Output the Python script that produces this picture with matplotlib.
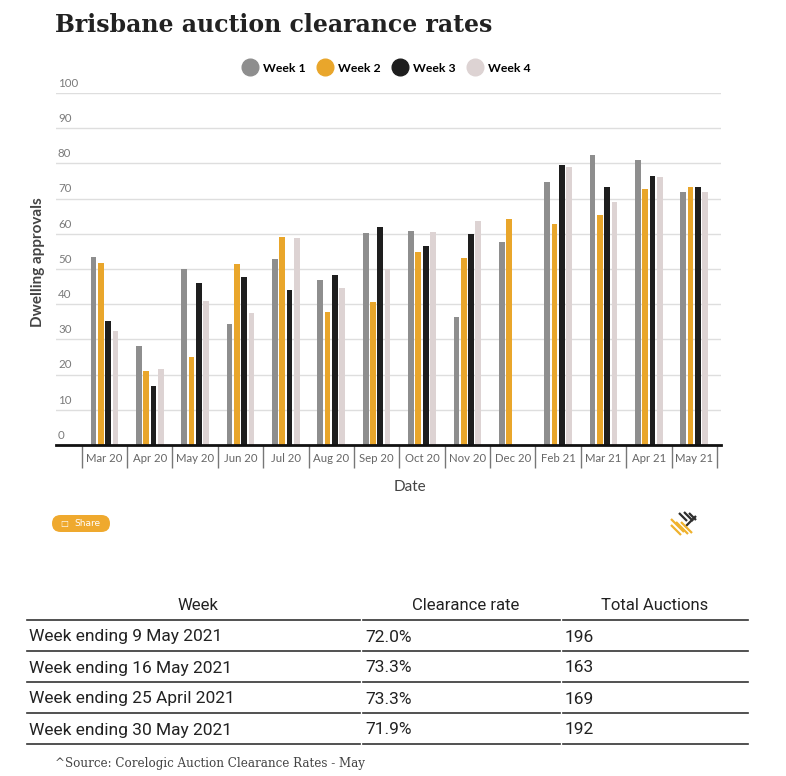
import matplotlib
matplotlib.use("Agg")
import matplotlib.pyplot as plt
import numpy as np
from matplotlib.lines import Line2D
from matplotlib.patches import FancyBboxPatch
import matplotlib.transforms as mtransforms

months = ["Mar 20", "Apr 20", "May 20", "Jun 20", "Jul 20", "Aug 20", "Sep 20",
          "Oct 20", "Nov 20", "Dec 20", "Feb 21", "Mar 21", "Apr 21", "May 21"]
week1 = [53.4, 28.1, 50.1, 34.4, 52.9, 46.9, 60.2, 60.9, 36.5, 57.8, 74.7, 82.5, 81.0, 72.0]
week2 = [51.8, 20.9, 25.1, 51.5, 59.2, 37.9, 40.5, 54.9, 53.2, 64.3, 62.8, 65.4, 72.8, 73.3]
week3 = [35.1, 16.8, 46.1, 47.8, 44.1, 48.2, 62.0, 56.6, 59.9, np.nan, 79.5, 73.2, 76.3, 73.3]
week4 = [32.5, 21.5, 41.0, 37.6, 58.8, 44.7, 50.1, 60.4, 63.6, np.nan, 79.1, 68.9, 76.2, 71.9]
series = ["Week 1", "Week 2", "Week 3", "Week 4"]
colors = ["#8e8e8e", "#e9a62b", "#1e1e1e", "#ddd3d3"]
yticks = [0, 10, 20, 30, 40, 50, 60, 70, 80, 90, 100]

table_cols = ["Week", "Clearance rate", "Total Auctions"]
table_weeks = ["Week ending 9 May 2021", "Week ending 16 May 2021",
               "Week ending 25 April 2021", "Week ending 30 May 2021"]
table_rates = ["72.0%", "73.3%", "73.3%", "71.9%"]
table_totals = ["196", "163", "169", "192"]

W, H = 786, 776
fig = plt.figure(figsize=(W / 100, H / 100), dpi=100)
fig.patch.set_facecolor("white")

def fx(px):
    return px / W

def fy(py):
    return 1 - py / H

ax = fig.add_axes([fx(56), fy(445), fx(721) - fx(56), fy(93) - fy(445)])
x = np.arange(len(months))
pitch, width = 0.161, 0.126
for k, (vals, c) in enumerate(zip([week1, week2, week3, week4], colors)):
    ax.bar(x + (k - 1.5) * pitch, vals, width=width, color=c, zorder=3)

ax.set_xlim(-1.067, 13.59)
ax.set_ylim(0, 100)
for s in ["left", "right", "top"]:
    ax.spines[s].set_visible(False)
ax.spines["bottom"].set_linewidth(2)
ax.spines["bottom"].set_color("#111111")
ax.spines["bottom"].set_zorder(5)

ax.set_yticks(yticks)
ax.yaxis.grid(True, color="#dedede", linewidth=1, zorder=0)
ax.tick_params(axis="y", length=0, labelleft=False)
trans = mtransforms.blended_transform_factory(ax.transAxes, ax.transData)
for t in yticks:
    ax.text(0.003, t + 1.2, str(t), transform=trans, fontsize=8.3, color="#7a7a7a",
            family="Lato", ha="left", va="bottom")

ax.set_xticks(x)
ax.set_xticklabels(months, fontsize=8.2, color="#666666", family="Lato")
ax.set_xticks(np.arange(len(months) + 1) - 0.5, minor=True)
ax.tick_params(axis="x", which="major", length=0, pad=6)
ax.tick_params(axis="x", which="minor", length=16.5, width=1, color="#777777")

fig.text(fx(410), fy(487), "Date", fontsize=11, color="#444444", family="Lato",
         ha="center", va="center")
fig.text(fx(38), fy(262), "Dwelling approvals", fontsize=11, color="#444444",
         family="Lato", fontweight="bold", rotation=90, ha="center", va="center")

fig.text(fx(55), fy(25), "Brisbane auction clearance rates", fontsize=17,
         family="DejaVu Serif", fontweight="bold", color="#222222",
         ha="left", va="center")

handles = [Line2D([], [], marker="o", linestyle="", markersize=12,
                  markerfacecolor=c, markeredgecolor=c) for c in colors]
fig.legend(handles, series, loc="center", bbox_to_anchor=(fx(384), fy(68)),
           ncol=4, frameon=False, handletextpad=0.05, columnspacing=0.6,
           prop={"family": "Lato", "weight": "bold", "size": 8.8})

# share button
btn = FancyBboxPatch((fx(52), fy(532)), fx(110) - fx(52), fy(515) - fy(532),
                     boxstyle="round,pad=0,rounding_size=0.011",
                     transform=fig.transFigure, facecolor="#efa92e",
                     edgecolor="none")
fig.patches.append(btn)
fig.text(fx(87), fy(523.5), "Share", fontsize=6.5, color="white",
         ha="center", va="center")
fig.text(fx(64), fy(523.5), "\u25a1", fontsize=6, color="white",
         ha="center", va="center")

# logo
dark_strokes = [((679, 513), (687, 521)), ((684, 512), (693, 521)),
                ((689, 513), (696, 520)), ((685, 527), (696, 516))]
gold_strokes = [((671, 519), (684, 532)), ((671, 525), (681, 535)),
                ((676, 522), (688, 534)), ((681, 522), (692, 533))]
for segs, c in [(dark_strokes, "#2e2e2e"), (gold_strokes, "#efb22e")]:
    for (xa, ya), (xb, yb) in segs:
        fig.add_artist(Line2D([fx(xa), fx(xb)], [fy(ya), fy(yb)], color=c,
                              lw=1.6, solid_capstyle="butt",
                              transform=fig.transFigure))

# table
col_x = [(27, 360), (363, 560), (563, 748)]
header_cx = [198, 466, 655]
for (x0, x1), cx, name in zip(col_x, header_cx, table_cols):
    fig.text(fx(cx), fy(605), name, fontsize=12, family="Roboto",
             color="#222222", ha="center", va="center")
row_lines = [620, 651, 682, 713, 744]
for ly in row_lines:
    for x0, x1 in col_x:
        fig.add_artist(Line2D([fx(x0), fx(x1)], [fy(ly), fy(ly)],
                              color="#333333", lw=1.2, transform=fig.transFigure))
for r, (wk, rate, tot) in enumerate(zip(table_weeks, table_rates, table_totals)):
    yy = fy((row_lines[r] + row_lines[r + 1]) / 2 + 1.5)
    for (x0, x1), txt in zip(col_x, [wk, rate, tot]):
        fig.text(fx(x0 + 2), yy, txt, fontsize=12.5, family="Roboto",
                 color="#222222", ha="left", va="center")

fig.text(fx(55), fy(763), "^Source: Corelogic Auction Clearance Rates - May",
         fontsize=8.6, family="DejaVu Serif", color="#444444",
         ha="left", va="center")

fig.savefig("out.png", dpi=100, facecolor="white")
